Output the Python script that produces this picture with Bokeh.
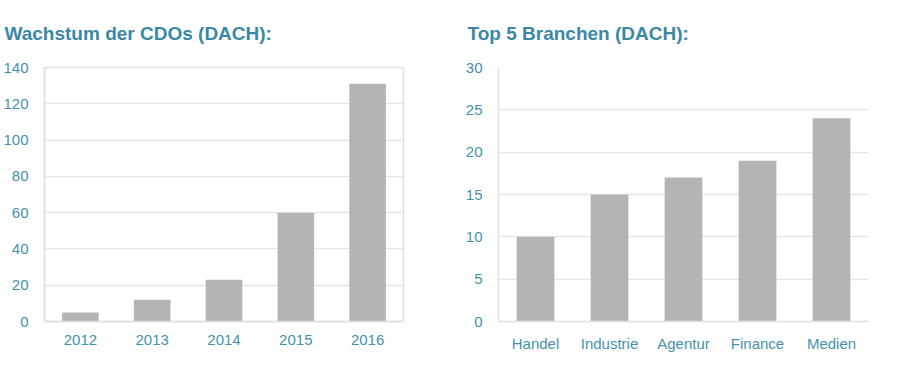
from bokeh.plotting import figure
from bokeh.layouts import row
from bokeh.models import Range1d, SingleIntervalTicker, FactorRange
from bokeh.embed import file_html
from bokeh.resources import INLINE

years = ["2012", "2013", "2014", "2015", "2016"]
cdo_growth = [5, 12, 23, 60, 131]

branches = ["Handel", "Industrie", "Agentur", "Finance", "Medien"]
branch_counts = [10, 15, 17, 19, 24]

TITLE_COLOR = "#3a88a6"
LABEL_COLOR = "#4592ae"
BAR_COLOR = "#b4b4b4"
GRID_COLOR = "#e6e6e6"
AXIS_COLOR = "#e0e0e0"
FONT = "Liberation Sans"


def make_chart(cats, vals, title, ymax, step, width, border_left, border_right, title_offset, outline):
    p = figure(x_range=FactorRange(*cats, range_padding=0), y_range=Range1d(0, ymax),
               width=width, height=354, output_backend="svg", toolbar_location=None,
               min_border_left=border_left, min_border_right=border_right,
               min_border_top=67, min_border_bottom=32, title=title)
    p.vbar(x=cats, top=vals, width=0.51, fill_color=BAR_COLOR, line_color=None)
    p.title.text_font = FONT
    p.title.text_font_size = "19px"
    p.title.text_color = TITLE_COLOR
    p.title.text_font_style = "bold"
    p.title.align = "left"
    p.title.vertical_align = "top"
    p.title.offset = title_offset
    p.title.standoff = 44
    p.yaxis.ticker = SingleIntervalTicker(interval=step)
    for ax in (p.xaxis, p.yaxis):
        ax.major_label_text_font = FONT
        ax.major_label_text_font_size = "15px"
        ax.major_label_text_color = LABEL_COLOR
        ax.axis_line_color = AXIS_COLOR
        ax.axis_line_width = 1.5
        ax.major_tick_line_color = None
        ax.minor_tick_line_color = None
        ax.major_tick_out = 0
        ax.major_tick_in = 0
    p.yaxis.major_label_standoff = 12
    p.xaxis.major_label_standoff = 13
    p.xgrid.grid_line_color = None
    p.ygrid.grid_line_color = GRID_COLOR
    p.ygrid.grid_line_width = 1.5
    p.outline_line_color = AXIS_COLOR if outline else None
    p.outline_line_width = 1.5
    p.background_fill_color = "white"
    p.border_fill_color = "white"
    return p


p1 = make_chart(years, cdo_growth, "Wachstum der CDOs (DACH):", 140, 20, 458, 40, 55, -40, True)
p2 = make_chart(branches, branch_counts, "Top 5 Branchen (DACH):", 30, 5, 423, 40, 13, -31, False)

layout = row(p1, p2)
open("out.html", "w").write(file_html(layout, INLINE))
